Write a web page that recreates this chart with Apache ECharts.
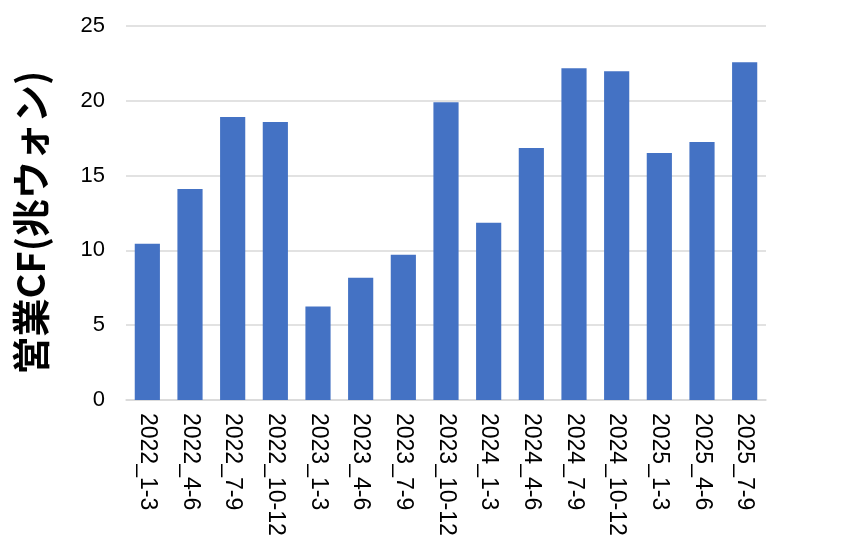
<!DOCTYPE html>
<html><head><meta charset="utf-8">
<script src="https://cdn.jsdelivr.net/npm/echarts@6/dist/echarts.min.js"></script>
<style>html,body{margin:0;padding:0;background:#fff}#c{width:857px;height:554px}</style>
</head><body><div id="c"></div>
<script>
const categories = ["2022_1-3","2022_4-6","2022_7-9","2022_10-12","2023_1-3","2023_4-6","2023_7-9","2023_10-12","2024_1-3","2024_4-6","2024_7-9","2024_10-12","2025_1-3","2025_4-6","2025_7-9"];
const cfValues = [10.45, 14.11, 18.91, 18.58, 6.25, 8.18, 9.71, 19.91, 11.85, 16.85, 22.18, 21.98, 16.51, 17.25, 22.58];
const yTicks = [0, 5, 10, 15, 20, 25];
const yTitle = "営業CF(兆ウォン)";
const FONT = "'Liberation Sans', Arial, sans-serif";
const TFONT = "'Noto Sans CJK JP', sans-serif";
const chart = echarts.init(document.getElementById('c'), null, {renderer: 'canvas'});
chart.setOption({
  animation: false,
  grid: {left: 126, right: 91, top: 26, bottom: 154, containLabel: false},
  xAxis: {
    type: 'category', data: categories,
    axisLine: {show: true, lineStyle: {color: '#D9D9D9', width: 1.5}},
    axisTick: {show: false},
    axisLabel: {rotate: -90, margin: 13, fontSize: 23, color: '#000', fontFamily: FONT}
  },
  yAxis: {
    type: 'value', min: yTicks[0], max: yTicks[yTicks.length-1], interval: 5,
    name: yTitle, nameLocation: 'middle', nameGap: 76, nameRotate: 90,
    nameTextStyle: {fontSize: 38, fontWeight: 'bold', color: '#000', fontFamily: TFONT, padding: [0, 19, 0, 0]},
    axisLine: {show: false}, axisTick: {show: false},
    axisLabel: {margin: 21, fontSize: 22, color: '#000', fontFamily: FONT},
    splitLine: {lineStyle: {color: '#D9D9D9', width: 1.5}}
  },
  series: [{
    type: 'bar', data: cfValues, barCategoryGap: '41%',
    itemStyle: {color: '#4472C4'}
  }]
});
</script></body></html>
